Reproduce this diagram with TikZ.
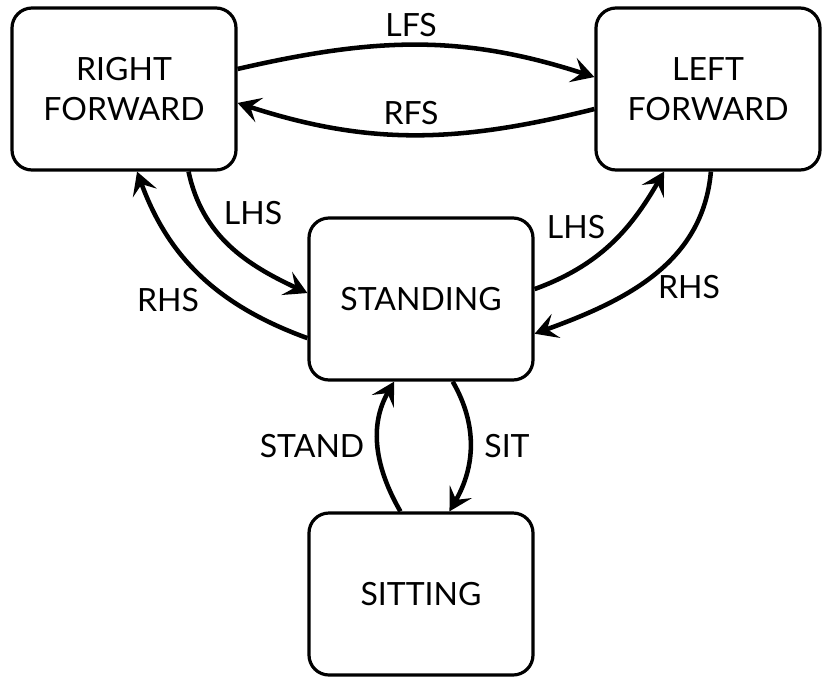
\documentclass[tikz,border=0pt]{standalone}
\usepackage{fontspec}
\setmainfont{Lato}
\usetikzlibrary{arrows.meta}

\begin{document}
\begin{tikzpicture}[
    x=0.75pt, y=0.75pt,
    state/.style={draw, line width=2.4pt, rounded corners=15pt, minimum width=168pt,
      minimum height=121.5pt, align=center, inner sep=0pt, font=\fontsize{24}{30}\selectfont},
    trans/.style={-{Stealth[length=17pt, width=19pt, inset=7pt]}, line width=3.4pt},
    lbl/.style={font=\fontsize{24}{30}\selectfont, inner sep=0pt},
  ]
  \useasboundingbox (0,0) rectangle (822,-676);
  % ---- states ----
  \node[state] (rf) at (124,-89) {RIGHT\\FORWARD};
  \node[state] (lf) at (708,-89) {LEFT\\FORWARD};
  \node[state] (st) at (421,-299) {STANDING};
  \node[state] (si) at (421,-594) {SITTING};
  % ---- forward steps ----
  \draw[trans] (rf.10) to[out=13, in=162] (lf.174);
  \draw[trans] (lf.190) to[out=194, in=-18] (rf.-7);
  \node[lbl] (lfs) at (411,-25) {LFS};
  \node[lbl] (rfs) at (411,-113) {RFS};
  % ---- half steps (left) ----
  \draw[trans] (rf.-52) to[out=-78, in=155] (st.177);
  \draw[trans] (st.199) to[out=160, in=-70] (rf.-81);
  \node[lbl] (lhsl) at (253,-213) {LHS};
  \node[lbl] (rhsl) at (168,-300) {RHS};
  % ---- half steps (right) ----
  \draw[trans] (st.5) to[out=20, in=240] (lf.-118);
  \node[lbl] (lhsr) at (576,-227) {LHS};
  \draw[trans] (lf.-88) to[out=-95, in=20] (st.-17);
  \node[lbl] (rhsr) at (689,-287) {RHS};
  % ---- sit / stand ----
  \draw[trans] (st.-69) to[out=-60, in=60] (si.71);
  \draw[trans] (si.104) to[out=120, in=-120] (st.-108);
  \node[lbl] (sit) at (507,-446) {SIT};
  \node[lbl] (stand) at (312,-446) {STAND};
\end{tikzpicture}
\end{document}
